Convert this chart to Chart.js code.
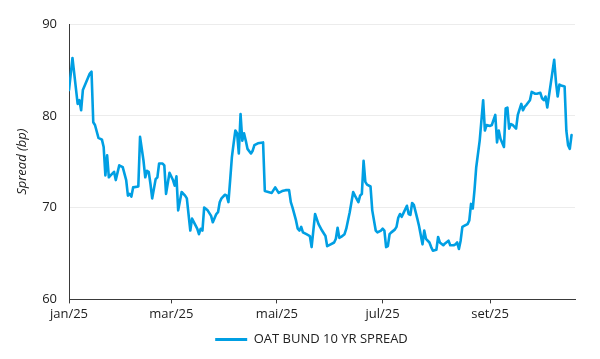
<!DOCTYPE html>
<html>
<head>
<meta charset="utf-8">
<script src="https://cdn.jsdelivr.net/npm/chart.js@4"></script>
<style>
  html, body { margin: 0; padding: 0; background: #fff; }
  #wrap { position: relative; width: 600px; height: 359px; }
</style>
</head>
<body>
<div id="wrap"><canvas id="chart"></canvas></div>
<script>
// OAT-Bund 10y spread, 2025 (bp)
const dates = [
  '01-01','01-03','01-06','01-07','01-08','01-09','01-13','01-14','01-15','01-16',
  '01-18','01-20','01-21','01-22','01-23','01-24','01-25','01-27','01-28','01-30',
  '02-01','02-03','02-04','02-05','02-06','02-07','02-10','02-11','02-13','02-14',
  '02-15','02-16','02-17','02-18','02-20','02-21','02-22','02-24','02-25','02-26',
  '02-28','03-02','03-03','03-04','03-05','03-07','03-09','03-10','03-12','03-13',
  '03-16','03-17','03-18','03-19','03-20','03-22','03-24','03-25','03-27','03-28',
  '03-29','03-30','04-01','04-02','04-03','04-04','04-05','04-06','04-07','04-08',
  '04-09','04-10','04-11','04-12','04-13','04-14','04-16','04-17','04-18','04-20',
  '04-23','04-24','04-26','04-28','04-30','05-02','05-04','05-06','05-08','05-09',
  '05-10','05-12','05-13','05-14','05-15','05-16','05-18','05-20','05-21','05-22',
  '05-23','05-25','05-27','05-29','05-30','06-01','06-03','06-04','06-05','06-06',
  '06-07','06-09','06-10','06-12','06-14','06-15','06-17','06-18','06-19','06-20',
  '06-21','06-22','06-24','06-25','06-27','06-28','06-30','07-01','07-02','07-03',
  '07-04','07-05','07-06','07-08','07-09','07-10','07-11','07-12','07-13','07-15',
  '07-16','07-17','07-18','07-19','07-21','07-22','07-24','07-25','07-26','07-28',
  '07-29','07-30','08-01','08-02','08-03','08-05','08-06','08-08','08-09','08-11',
  '08-12','08-13','08-14','08-15','08-16','08-17','08-19','08-20','08-21','08-22',
  '08-23','08-24','08-26','08-27','08-28','08-29','08-30','09-01','09-02','09-04',
  '09-05','09-06','09-07','09-09','09-10','09-11','09-12','09-13','09-14','09-16',
  '09-17','09-19','09-20','09-21','09-22','09-24','09-25','09-27','09-28','09-30',
  '10-01','10-02','10-03','10-04','10-06','10-08','10-09','10-10','10-11','10-12',
  '10-14','10-15','10-16','10-17','10-18'
];

const spread = [
  82.8, 86.3, 81.3, 81.7, 80.6, 82.8, 84.6, 84.8, 79.3, 79.0,
  77.6, 77.4, 76.6, 73.5, 75.7, 73.3, 73.5, 73.9, 73.0, 74.6,
  74.4, 73.0, 71.3, 71.5, 71.2, 72.2, 72.3, 77.7, 75.1, 73.3,
  74.0, 73.9, 72.6, 71.0, 73.1, 73.3, 74.8, 74.8, 74.6, 71.5,
  73.8, 73.0, 72.4, 73.4, 69.7, 71.7, 71.3, 71.0, 67.5, 68.8,
  67.7, 67.1, 67.7, 67.5, 70.0, 69.7, 69.1, 68.4, 69.3, 69.5,
  70.6, 71.0, 71.4, 71.3, 70.6, 73.0, 75.5, 77.0, 78.4, 78.1,
  75.9, 80.2, 77.3, 78.1, 77.3, 76.4, 75.9, 76.2, 76.8, 77.0,
  77.1, 71.8, 71.7, 71.6, 72.2, 71.6, 71.8, 71.9, 71.9, 70.6,
  70.0, 68.6, 67.7, 67.5, 67.9, 67.3, 67.1, 66.9, 65.7, 67.5,
  69.3, 68.2, 67.5, 66.9, 65.8, 66.0, 66.2, 66.6, 67.8, 66.7,
  66.8, 67.1, 67.7, 69.5, 71.7, 71.3, 70.6, 71.3, 71.5, 75.1,
  72.8, 72.5, 72.3, 69.7, 67.5, 67.3, 67.5, 67.7, 67.5, 65.7,
  65.8, 67.1, 67.3, 67.6, 67.9, 68.9, 69.3, 69.0, 69.4, 70.2,
  69.3, 69.2, 70.5, 70.3, 68.8, 68.0, 66.0, 67.5, 66.6, 66.2,
  65.7, 65.3, 65.4, 66.8, 66.2, 65.9, 66.1, 66.4, 65.9, 65.9,
  66.0, 66.2, 65.5, 66.4, 67.9, 68.0, 68.2, 68.6, 70.4, 69.9,
  71.9, 74.4, 77.3, 79.5, 81.7, 78.4, 79.0, 78.9, 79.0, 80.1,
  77.1, 78.4, 77.5, 76.6, 80.8, 80.9, 78.6, 79.1, 79.0, 78.6,
  80.1, 81.3, 80.6, 81.0, 81.2, 81.7, 82.6, 82.4, 82.4, 82.5,
  81.9, 81.7, 82.1, 80.9, 83.5, 86.1, 83.7, 82.1, 83.4, 83.3,
  83.2, 78.4, 76.8, 76.4, 77.9
];

const tickDates = ['01-01', '03-01', '05-01', '07-01', '09-01'];
const tickLabels = ['jan/25', 'mar/25', 'mai/25', 'jul/25', 'set/25'];
const axisEnd = '10-20';

const LINE_COLOR = '#009FE3';
const FONT = "'Open Sans', sans-serif";

// days since 1 Jan 2025
function dayOf(md) {
  const [m, d] = md.split('-').map(Number);
  return (Date.UTC(2025, m - 1, d) - Date.UTC(2025, 0, 1)) / 86400000;
}

const tickDays = tickDates.map(dayOf);
const points = dates.map((d, i) => ({ x: dayOf(d), y: spread[i] }));

// the legend sits a bit right of the canvas centre in the original
const legendShift = {
  id: 'legendShift',
  afterLayout(chart) {
    chart.legend.left += 17;
    chart.legend.right += 17;
  },
};

new Chart(document.getElementById('chart'), {
  type: 'line',
  data: {
    datasets: [{
      label: 'OAT BUND 10 YR SPREAD',
      data: points,
      borderColor: LINE_COLOR,
      backgroundColor: LINE_COLOR,
      borderWidth: 2.6,
      borderJoinStyle: 'round',
      borderCapStyle: 'round',
      pointRadius: 0,
      tension: 0,
      fill: false,
    }],
  },
  plugins: [legendShift],
  options: {
    responsive: true,
    maintainAspectRatio: false,
    animation: false,
    layout: {
      padding: { left: 14, right: 25, top: 24, bottom: 3 },
    },
    plugins: {
      tooltip: { enabled: false },
      legend: {
        display: true,
        position: 'bottom',
        labels: {
          boxWidth: 32,
          boxHeight: 3,
          padding: 8,
          color: '#222',
          font: { size: 13, family: FONT },
          generateLabels: (chart) => {
            const items = Chart.defaults.plugins.legend.labels.generateLabels(chart);
            items.forEach(it => { it.lineWidth = 0; });
            return items;
          },
        },
      },
    },
    scales: {
      x: {
        type: 'linear',
        min: 0,
        max: dayOf(axisEnd),
        afterBuildTicks: (scale) => {
          scale.ticks = tickDays.map(v => ({ value: v }));
        },
        grid: {
          drawOnChartArea: false,
          drawTicks: true,
          tickLength: 4,
          color: '#3a3a3a',
        },
        border: { display: true, color: '#3a3a3a', width: 1 },
        ticks: {
          autoSkip: false,
          maxRotation: 0,
          padding: 3,
          color: '#222',
          font: { size: 13, family: FONT },
          callback: (value) => {
            const i = tickDays.indexOf(value);
            return i >= 0 ? tickLabels[i] : '';
          },
        },
      },
      y: {
        min: 60,
        max: 90,
        afterFit: (scale) => { scale.width = 55; },
        title: {
          display: true,
          text: 'Spread (bp)',
          color: '#222',
          font: { size: 13, style: 'italic', family: FONT },
          padding: { top: 0, bottom: 0 },
        },
        grid: {
          color: '#ececec',
          drawTicks: false,
        },
        border: { display: true, color: '#3a3a3a', width: 1 },
        ticks: {
          stepSize: 10,
          padding: 12,
          color: '#222',
          font: { size: 13, family: FONT },
        },
      },
    },
  },
});
</script>
</body>
</html>
